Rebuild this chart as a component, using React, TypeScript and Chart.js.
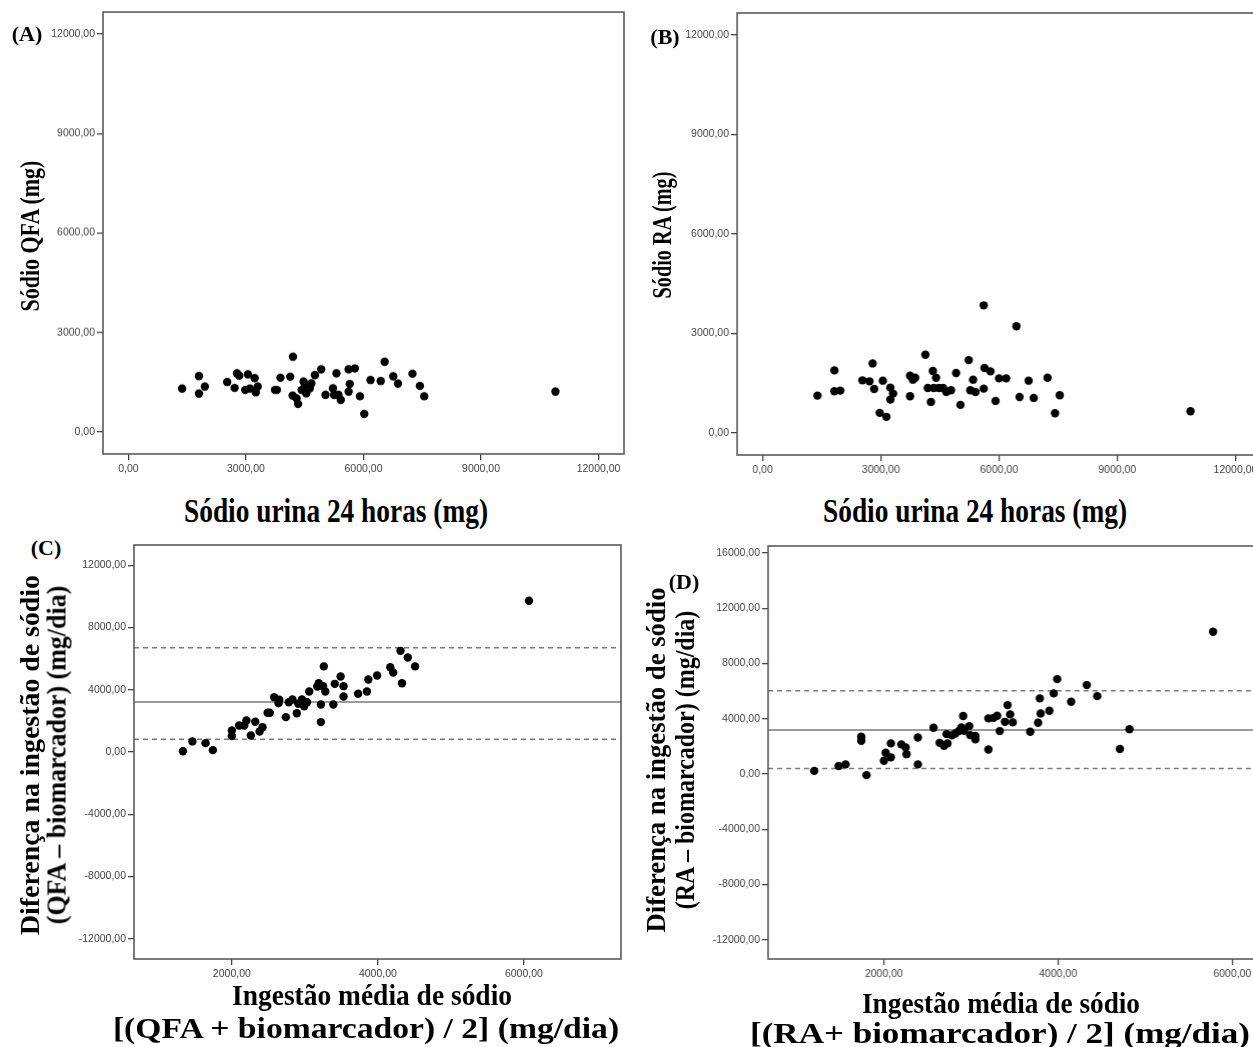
import React, { useEffect, useRef } from 'react';
import { Chart, registerables } from 'chart.js';
Chart.register(...registerables);

// ---------- tick values ----------
const AB_TICKS = [0, 3000, 6000, 9000, 12000];
const C_Y_TICKS = [-12000, -8000, -4000, 0, 4000, 8000, 12000];
const D_Y_TICKS = [-12000, -8000, -4000, 0, 4000, 8000, 12000, 16000];
const CD_X_TICKS = [2000, 4000, 6000];

// ---------- (A) Sódio urina 24h vs Sódio QFA ----------
const urinaA = [1370, 1800, 1800, 1950, 2520, 2710, 2770, 2830, 2980, 3050, 3100, 3220, 3250, 3300, 3740, 3790, 3880, 4130, 4200, 4190, 4290, 4330, 4420, 4470, 4510, 4540, 4630, 4670, 4760, 4920, 5030, 5220, 5310, 5250, 5360, 5420, 5620, 5650, 5620, 5780, 5910, 6020, 6180, 6440, 6540, 6760, 6880, 7250, 7440, 7550, 10900];
const qfaA = [1310, 1690, 1160, 1370, 1510, 1330, 1770, 1700, 1270, 1740, 1310, 1630, 1200, 1370, 1270, 1270, 1640, 1670, 2270, 1100, 1020, 850, 1270, 1520, 1420, 1170, 1320, 1470, 1720, 1890, 1120, 1320, 1770, 1120, 1120, 970, 1890, 1450, 1220, 1920, 1080, 550, 1570, 1540, 2120, 1680, 1460, 1760, 1390, 1080, 1220];

// ---------- (B) Sódio urina 24h vs Sódio RA ----------
const urinaB = [1390, 1820, 1820, 1970, 2530, 2710, 2790, 2830, 2970, 3140, 3050, 3240, 3310, 3240, 3740, 3810, 3870, 3740, 4130, 4190, 4270, 4320, 4400, 4340, 4470, 4580, 4660, 4780, 4910, 5020, 5230, 5270, 5340, 5400, 5610, 5630, 5780, 5610, 5910, 6000, 6180, 6440, 6520, 6750, 6880, 7230, 7540, 7420, 10860];
const raB = [1130, 1890, 1260, 1280, 1590, 1560, 2100, 1330, 610, 490, 1580, 1370, 1190, 1010, 1730, 1610, 1670, 1110, 2360, 1360, 940, 1870, 1670, 1360, 1360, 1360, 1240, 1290, 1810, 850, 2200, 1290, 1610, 1240, 3850, 1960, 1860, 1340, 970, 1650, 1650, 3220, 1090, 1580, 1060, 1670, 1140, 600, 660];

// ---------- (C) Bland-Altman QFA ----------
const meanC = [1330, 1460, 1640, 1740, 2000, 2000, 2100, 2170, 2200, 2260, 2320, 2380, 2420, 2490, 2520, 2580, 2640, 2650, 2740, 2780, 2830, 2890, 2910, 2960, 2990, 3030, 3060, 3170, 3190, 3220, 3220, 3260, 3280, 3250, 3390, 3410, 3490, 3530, 3530, 3730, 3850, 3870, 3990, 4170, 4210, 4310, 4410, 4330, 4510, 6070];
const diffC = [50, 680, 570, 120, 1380, 1020, 1700, 1700, 2020, 1060, 1940, 1320, 1590, 2520, 2520, 3520, 3140, 3360, 2240, 3200, 3370, 2490, 3100, 3370, 2940, 3200, 3890, 4210, 4420, 3050, 1920, 5500, 3890, 4230, 3050, 4380, 4850, 4230, 3570, 3740, 3890, 4660, 4920, 5450, 5110, 6500, 6070, 4420, 5500, 9720];
const C_MEAN = 3210;
const C_UPPER = 6700;
const C_LOWER = 815;

// ---------- (D) Bland-Altman RA ----------
const meanD = [1200, 1480, 1560, 1740, 1740, 1800, 2000, 2020, 2080, 2080, 2200, 2250, 2260, 2390, 2390, 2570, 2640, 2690, 2720, 2730, 2780, 2820, 2860, 2890, 2910, 2920, 2980, 2990, 3050, 3050, 3200, 3200, 3260, 3300, 3330, 3420, 3390, 3450, 3480, 3680, 3770, 3800, 3790, 3900, 3950, 3990, 4150, 4330, 4450, 4710, 4820, 5780];
const diffD = [220, 570, 690, 2690, 2400, -90, 950, 1530, 1200, 2210, 2140, 1920, 1430, 690, 2640, 3340, 2250, 2040, 2880, 2210, 2790, 2930, 3100, 3370, 4190, 3120, 3460, 2810, 2740, 2500, 1770, 4020, 4060, 4210, 3100, 4980, 3770, 4310, 3730, 3050, 3700, 4380, 5470, 4570, 5830, 6860, 5220, 6430, 5630, 1800, 3240, 10290];
const D_MEAN = 3170;
const D_UPPER = 6020;
const D_LOWER = 400;

// ---------- layout ----------
const YW = 70;
const XH = 30;
const PADT = 10;
const PADR = 10;

type Panel = {
  L: number; T: number; R: number; B: number;
  xMin: number; xMax: number; yMin: number; yMax: number;
  xTicks: number[]; yTicks: number[];
  xs: number[]; ys: number[];
  lines?: { mean: number; upper: number; lower: number };
};

const fmt = (v: number) => v.toFixed(2).replace('.', ',');

const framePlugin = {
  id: 'frame',
  afterDatasetsDraw(chart: any) {
    const { ctx, chartArea: a } = chart;
    ctx.save();
    ctx.strokeStyle = '#5a5a5a';
    ctx.lineWidth = 1.6;
    ctx.strokeRect(a.left, a.top, a.right - a.left, a.bottom - a.top);
    ctx.restore();
  },
};

function PanelChart({ p }: { p: Panel }) {
  const ref = useRef<HTMLCanvasElement | null>(null);
  const w = p.R - p.L + YW + PADR;
  const h = p.B - p.T + PADT + XH;
  useEffect(() => {
    if (!ref.current) return;
    const points = p.xs.map((x, i) => ({ x, y: p.ys[i] }));
    const datasets: any[] = [
      {
        data: points,
        pointRadius: 4.2,
        pointHoverRadius: 4.2,
        backgroundColor: '#000',
        borderWidth: 0,
        order: 0,
      },
    ];
    if (p.lines) {
      const mk = (v: number, dash: number[]) => ({
        data: [{ x: p.xMin, y: v }, { x: p.xMax, y: v }],
        showLine: true,
        pointRadius: 0,
        borderColor: '#7a7a7a',
        borderWidth: 1.5,
        borderDash: dash,
        order: 1,
      });
      datasets.push(mk(p.lines.mean, []));
      datasets.push(mk(p.lines.upper, [5, 4]));
      datasets.push(mk(p.lines.lower, [5, 4]));
    }
    const tickFont = { family: '"Liberation Sans", Arial, sans-serif', size: 10.5 };
    const gridCfg = {
      display: true,
      drawOnChartArea: false,
      drawTicks: true,
      tickLength: 6,
      color: '#444',
      lineWidth: 1.3,
    };
    const chart = new Chart(ref.current, {
      type: 'scatter',
      data: { datasets },
      options: {
        animation: false,
        responsive: false,
        maintainAspectRatio: false,
        devicePixelRatio: 1,
        layout: { padding: { top: PADT, right: PADR, left: 0, bottom: 0 } },
        plugins: { legend: { display: false }, tooltip: { enabled: false } },
        scales: {
          x: {
            type: 'linear',
            min: p.xMin,
            max: p.xMax,
            afterFit: (s: any) => { s.height = XH; },
            afterBuildTicks: (s: any) => { s.ticks = p.xTicks.map((v) => ({ value: v })); },
            grid: gridCfg,
            border: { display: false },
            ticks: { font: tickFont, color: '#444', padding: 3, maxRotation: 0, autoSkip: false, callback: (v: any) => fmt(Number(v)) },
          },
          y: {
            type: 'linear',
            min: p.yMin,
            max: p.yMax,
            afterFit: (s: any) => { s.width = YW; },
            afterBuildTicks: (s: any) => { s.ticks = p.yTicks.map((v) => ({ value: v })); },
            grid: gridCfg,
            border: { display: false },
            ticks: { font: tickFont, color: '#444', padding: 2, autoSkip: false, callback: (v: any) => fmt(Number(v)) },
          },
        },
      } as any,
      plugins: [framePlugin],
    });
    return () => chart.destroy();
  }, []);
  return (
    <canvas
      ref={ref}
      width={w}
      height={h}
      style={{ position: 'absolute', left: p.L - YW, top: p.T - PADT, width: w, height: h }}
    />
  );
}

let measureCtx: CanvasRenderingContext2D | null = null;
function measure(text: string, font: string) {
  if (!measureCtx) measureCtx = document.createElement('canvas').getContext('2d');
  measureCtx!.font = font;
  return measureCtx!.measureText(text).width;
}

function Label({ text, x, y, size, rot = 0, width }: { text: string; x: number; y: number; size: number; rot?: number; width?: number }) {
  const font = `bold ${size}px "Liberation Serif", "Times New Roman", serif`;
  const sx = width ? width / measure(text, font) : 1;
  return (
    <div
      style={{
        position: 'absolute',
        left: x,
        top: y,
        font,
        lineHeight: 1,
        whiteSpace: 'nowrap',
        color: '#000',
        transform: `translate(-50%, -50%) rotate(${rot}deg) scaleX(${sx})`,
      }}
    >
      {text}
    </div>
  );
}

const panelA: Panel = {
  L: 103.3, T: 12.3, R: 624.5, B: 454,
  xMin: -650, xMax: 12650, yMin: -660, yMax: 12660,
  xTicks: AB_TICKS, yTicks: AB_TICKS, xs: urinaA, ys: qfaA,
};
const panelB: Panel = {
  L: 737, T: 13, R: 1260.6, B: 455,
  xMin: -650, xMax: 12650, yMin: -660, yMax: 12660,
  xTicks: AB_TICKS, yTicks: AB_TICKS, xs: urinaB, ys: raB,
};
const panelC: Panel = {
  L: 134, T: 545, R: 621, B: 959,
  xMin: 660, xMax: 7330, yMin: -13300, yMax: 13300,
  xTicks: CD_X_TICKS, yTicks: C_Y_TICKS, xs: meanC, ys: diffC,
  lines: { mean: C_MEAN, upper: C_UPPER, lower: C_LOWER },
};
const panelD: Panel = {
  L: 768.3, T: 546, R: 1347.7, B: 959,
  xMin: 670, xMax: 7330, yMin: -13400, yMax: 16500,
  xTicks: CD_X_TICKS, yTicks: D_Y_TICKS, xs: meanD, ys: diffD,
  lines: { mean: D_MEAN, upper: D_UPPER, lower: D_LOWER },
};

export default function App() {
  return (
    <div style={{ position: 'fixed', left: 0, top: 0, width: 1253, height: 1047, overflow: 'hidden', background: '#fff' }}>
      <PanelChart p={panelA} />
      <PanelChart p={panelB} />
      <PanelChart p={panelC} />
      <PanelChart p={panelD} />

      <Label text="(A)" x={27} y={34} size={22} />
      <Label text="(B)" x={665} y={37} size={22} />
      <Label text="(C)" x={46} y={548} size={22} />
      <Label text="(D)" x={684} y={582} size={22} />

      <Label text="Sódio QFA (mg)" x={30} y={236} size={27} rot={-90} width={152} />
      <Label text="Sódio urina 24 horas (mg)" x={336} y={511} size={33} width={304} />
      <Label text="Sódio RA (mg)" x={662} y={235} size={27} rot={-90} width={128} />
      <Label text="Sódio urina 24 horas (mg)" x={975} y={511} size={33} width={304} />

      <Label text="Diferença na ingestão de sódio" x={30} y={755} size={27} rot={-90} width={360} />
      <Label text="(QFA – biomarcador) (mg/dia)" x={57} y={755} size={27} rot={-90} width={340} />
      <Label text="Ingestão média de sódio" x={372} y={995} size={30} width={280} />
      <Label text="[(QFA + biomarcador) / 2] (mg/dia)" x={366} y={1028} size={30} width={508} />

      <Label text="Diferença na ingestão de sódio" x={656} y={760} size={27} rot={-90} width={345} />
      <Label text="(RA – biomarcador) (mg/dia)" x={685} y={760} size={27} rot={-90} width={300} />
      <Label text="Ingestão média de sódio" x={1001} y={1003} size={30} width={278} />
      <Label text="[(RA+ biomarcador) / 2] (mg/dia)" x={1000} y={1033} size={30} width={500} />
    </div>
  );
}
